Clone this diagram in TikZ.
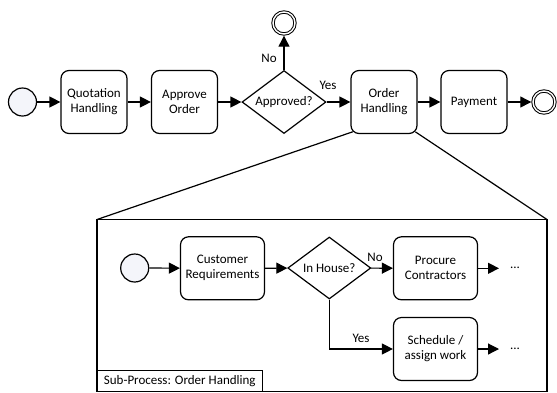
\documentclass[tikz,border=0pt]{standalone}
\usepackage{fontspec}
\setmainfont{Carlito}
\usetikzlibrary{shapes.geometric,arrows.meta,calc}
\definecolor{evfill}{RGB}{244,245,250}
\begin{document}
\begin{tikzpicture}[x=1pt,y=-1pt,
  font=\fontsize{13}{15}\selectfont,
  line width=1.2pt,
  task/.style={draw, rounded corners=8pt, minimum width=66pt, minimum height=63pt, align=center, inner sep=1pt},
  widetask/.style={task, minimum width=84pt},
  gate/.style={draw, diamond, aspect=1.33, minimum width=84pt, minimum height=63pt, inner sep=0pt},
  startev/.style={draw, circle, minimum size=28pt, inner sep=0pt, fill=evfill},
  endev/.style={draw, circle, double, double distance=1.4pt, line width=1pt, minimum size=22pt, inner sep=0pt, outer sep=1.7pt},
  flow/.style={line width=1.2pt, -{Triangle[length=11pt,width=11pt]}},
  lbl/.style={inner sep=0pt}
]
\useasboundingbox (0,0) rectangle (557,392);

% top level process
\node[startev] (s) at (22.5,102) {};
\node[task] (q) at (94,102) {Quotation\\Handling};
\node[task] (ao) at (184.5,102) {Approve\\Order};
\node[gate] (d1) at (284,102) {Approved?};
\node[endev] (etop) at (284,23) {};
\node[task] (oh) at (384,102) {Order\\Handling};
\node[task] (pay) at (474,102) {Payment};
\node[endev] (eright) at (544,102) {};

\draw[flow] (s) -- (q);
\draw[flow] (q) -- (ao);
\draw[flow] (ao) -- (d1);
\draw[flow] (d1) -- (etop);
\draw[flow] (d1) -- (oh);
\draw[flow] (oh) -- (pay);
\draw[flow] (pay) -- (eright);

\node[lbl] (lno) at (269,58) {No};
\node[lbl] (lyes) at (328,85) {Yes};

% sub-process frame
\node[draw, anchor=north west, minimum width=450pt, minimum height=172pt, inner sep=0pt, outer sep=0pt] (sp) at (97,219.5) {};
\node[draw, anchor=south west, minimum width=165.5pt, minimum height=21pt, inner sep=0pt, outer sep=0pt] (splbl) at (sp.south west) {Sub-Process: Order Handling};

\draw ($(oh.south west)+(2.3,-2.3)$) -- (sp.north west);
\draw ($(oh.south east)+(-2.3,-2.3)$) -- (sp.north east);

% sub-process content
\node[startev] (s2) at (134.7,268) {};
\node[widetask] (cr) at (222.5,268.3) {Customer\\Requirements};
\node[gate, minimum width=83pt, minimum height=62pt] (d2) at (329.3,268) {In House?};
\node[widetask] (pc) at (435.5,268.3) {Procure\\Contractors};
\node[widetask] (sa) at (435.5,349) {Schedule /\\assign work};

\coordinate (c1) at (499,268.3);
\coordinate (c2) at (499,349);
\node[lbl] (dots1) at (515,268) {...};
\node[lbl] (dots2) at (515,349) {...};

\draw[flow] (s2) -- (cr);
\draw[flow] (cr) -- (d2);
\draw[flow] (d2) -- (pc);
\draw[flow] (d2.south) |- (sa.west);
\draw[flow] (pc) -- (c1);
\draw[flow] (sa) -- (c2);

\node[lbl] (lno2) at (375,257) {No};
\node[lbl] (lyes2) at (361,338) {Yes};
\end{tikzpicture}
\end{document}
